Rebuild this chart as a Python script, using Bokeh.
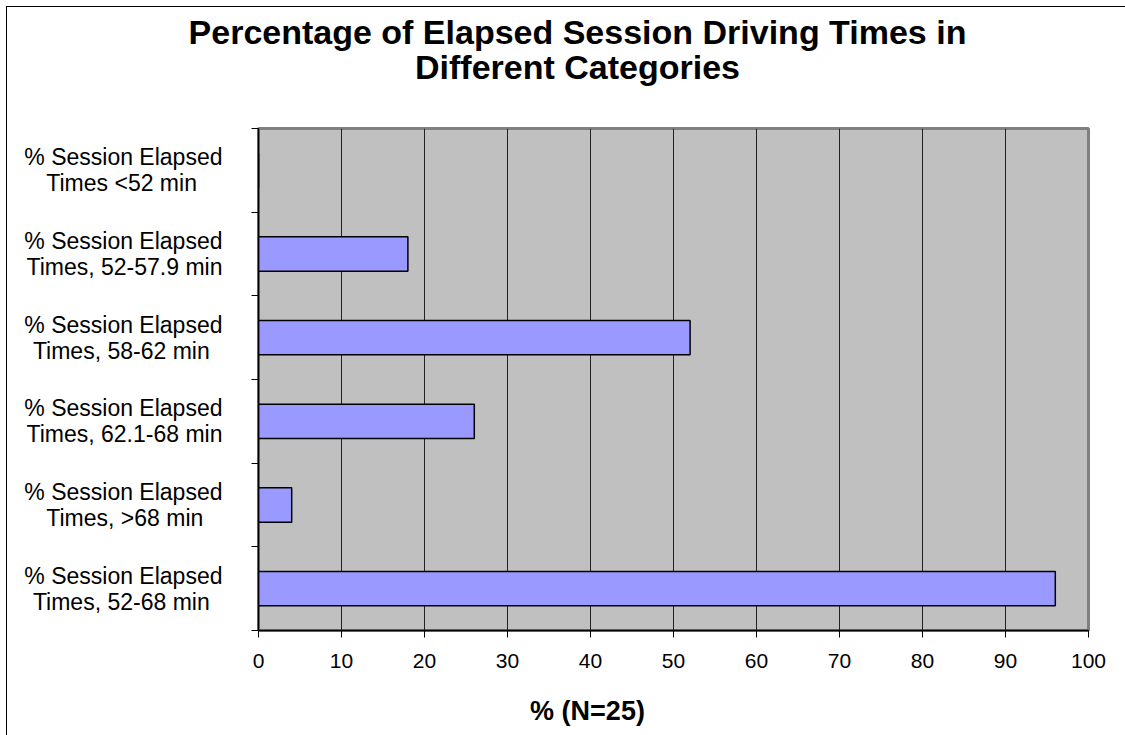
from bokeh.plotting import figure
from bokeh.models import Range1d, FixedTicker, ColumnDataSource, LinearAxis
from bokeh.embed import file_html
from bokeh.resources import INLINE

# ---- data ----
cat_line1 = ["% Session Elapsed"] * 6
cat_line2 = [
    "Times <52 min",
    "Times, 52-57.9 min",
    "Times, 58-62 min",
    "Times, 62.1-68 min",
    "Times, >68 min",
    "Times, 52-68 min",
]
values = [0, 18, 52, 26, 4, 96]
x_ticks = [0, 10, 20, 30, 40, 50, 60, 70, 80, 90, 100]
title_line1 = "Percentage of Elapsed Session Driving Times in"
title_line2 = "Different Categories"
x_label = "% (N=25)"

FONT = "Liberation Sans"
NBSP = "\u00a0"

# Arial / Liberation Sans advance widths (1/1000 em) used to centre the
# second line of each category label under the first one.
ARIAL = {"%": 889, " ": 278, "S": 667, "e": 556, "s": 500, "i": 222, "o": 556,
         "n": 556, "E": 667, "l": 222, "a": 556, "p": 556, "d": 556, "T": 611,
         "m": 833, ",": 278, "-": 333, ".": 278, "<": 584, ">": 584}
def text_w(t):
    return sum(ARIAL.get(c, 556) for c in t)

def centred_label(l1, l2):
    pad = max(0, round((text_w(l1) - text_w(l2)) / 2 / 278))
    return l1 + "\n" + l2 + NBSP * pad

n = len(values)
ys = [n - i - 0.5 for i in range(n)]          # category centres, top first
bounds = list(range(n + 1))                   # category boundaries
labels = [centred_label(a, b) for a, b in zip(cat_line1, cat_line2)]

W, H = 1125, 735
FL, FR = 258, 1088                            # frame left/right (px)
p = figure(width=W, height=H, x_range=Range1d(0, 100), y_range=Range1d(0, n),
           output_backend="svg", toolbar_location=None,
           min_border_left=FL, min_border_right=W - FR,
           min_border_top=128, min_border_bottom=105)
p.title.visible = False
p.background_fill_color = "#C0C0C0"
p.border_fill_color = None
p.styles = {"background":
            "linear-gradient(#000, #000) 6px 6px / 1px 100% no-repeat, "
            "linear-gradient(#000, #000) 6px 6px / 100% 1px no-repeat, white"}
p.outline_line_color = "#808080"
p.outline_line_width = 3

def px_to_x(px):
    return (px - FL) / (FR - FL) * 100

# grid
p.ygrid.visible = False
p.xgrid.ticker = FixedTicker(ticks=x_ticks)
p.xgrid.grid_line_color = "#222222"
p.xgrid.grid_line_width = 1

# x axis
p.xaxis.ticker = FixedTicker(ticks=x_ticks)
p.xaxis.major_tick_out = 7
p.xaxis.major_tick_in = 0
p.xaxis.minor_tick_line_color = None
p.xaxis.axis_line_color = "black"
p.xaxis.axis_line_width = 1.5
p.xaxis.major_tick_line_color = "black"
p.xaxis.major_label_text_font = FONT
p.xaxis.major_label_text_font_size = "21px"
p.xaxis.major_label_text_color = "black"
p.xaxis.major_label_standoff = 16

# y axis: labels at category centres, tick marks at category boundaries
p.yaxis.ticker = FixedTicker(ticks=ys, minor_ticks=bounds)
p.yaxis.major_label_overrides = {y: c for y, c in zip(ys, labels)}
p.yaxis.major_tick_out = 0
p.yaxis.major_tick_in = 0
p.yaxis.minor_tick_out = 7
p.yaxis.minor_tick_in = 0
p.yaxis.minor_tick_line_color = "black"
p.yaxis.axis_line_color = "black"
p.yaxis.axis_line_width = 1.5
p.yaxis.major_label_text_font = FONT
p.yaxis.major_label_text_font_size = "23px"
p.yaxis.major_label_text_color = "black"
p.yaxis.major_label_text_line_height = 1.0
p.yaxis.major_label_standoff = 29

# bars
src = ColumnDataSource(dict(y=ys, v=values))
p.hbar(y="y", left=0, right="v", height=0.41, source=src,
       fill_color="#9999FF", line_color="black", line_width=1.5)

def text_axis(pos_px, text, size, standoff, line_height=1.0):
    xc = px_to_x(pos_px)
    ax = LinearAxis(ticker=FixedTicker(ticks=[xc]),
                    major_label_overrides={xc: text},
                    axis_line_color=None, major_tick_line_color=None,
                    minor_tick_line_color=None, major_tick_out=0, major_tick_in=0,
                    major_label_standoff=standoff,
                    major_label_text_font=FONT, major_label_text_font_size=size,
                    major_label_text_font_style="bold",
                    major_label_text_color="black",
                    major_label_text_line_height=line_height)
    return ax

# chart title (centred over the whole chart, two lines)
p.add_layout(text_axis(577, title_line1 + "\n" + title_line2, "34px", 43, 0.92), "above")
# x-axis title
p.add_layout(text_axis(587, x_label, "27px", 25), "below")

open("out.html", "w").write(file_html(p, INLINE))
